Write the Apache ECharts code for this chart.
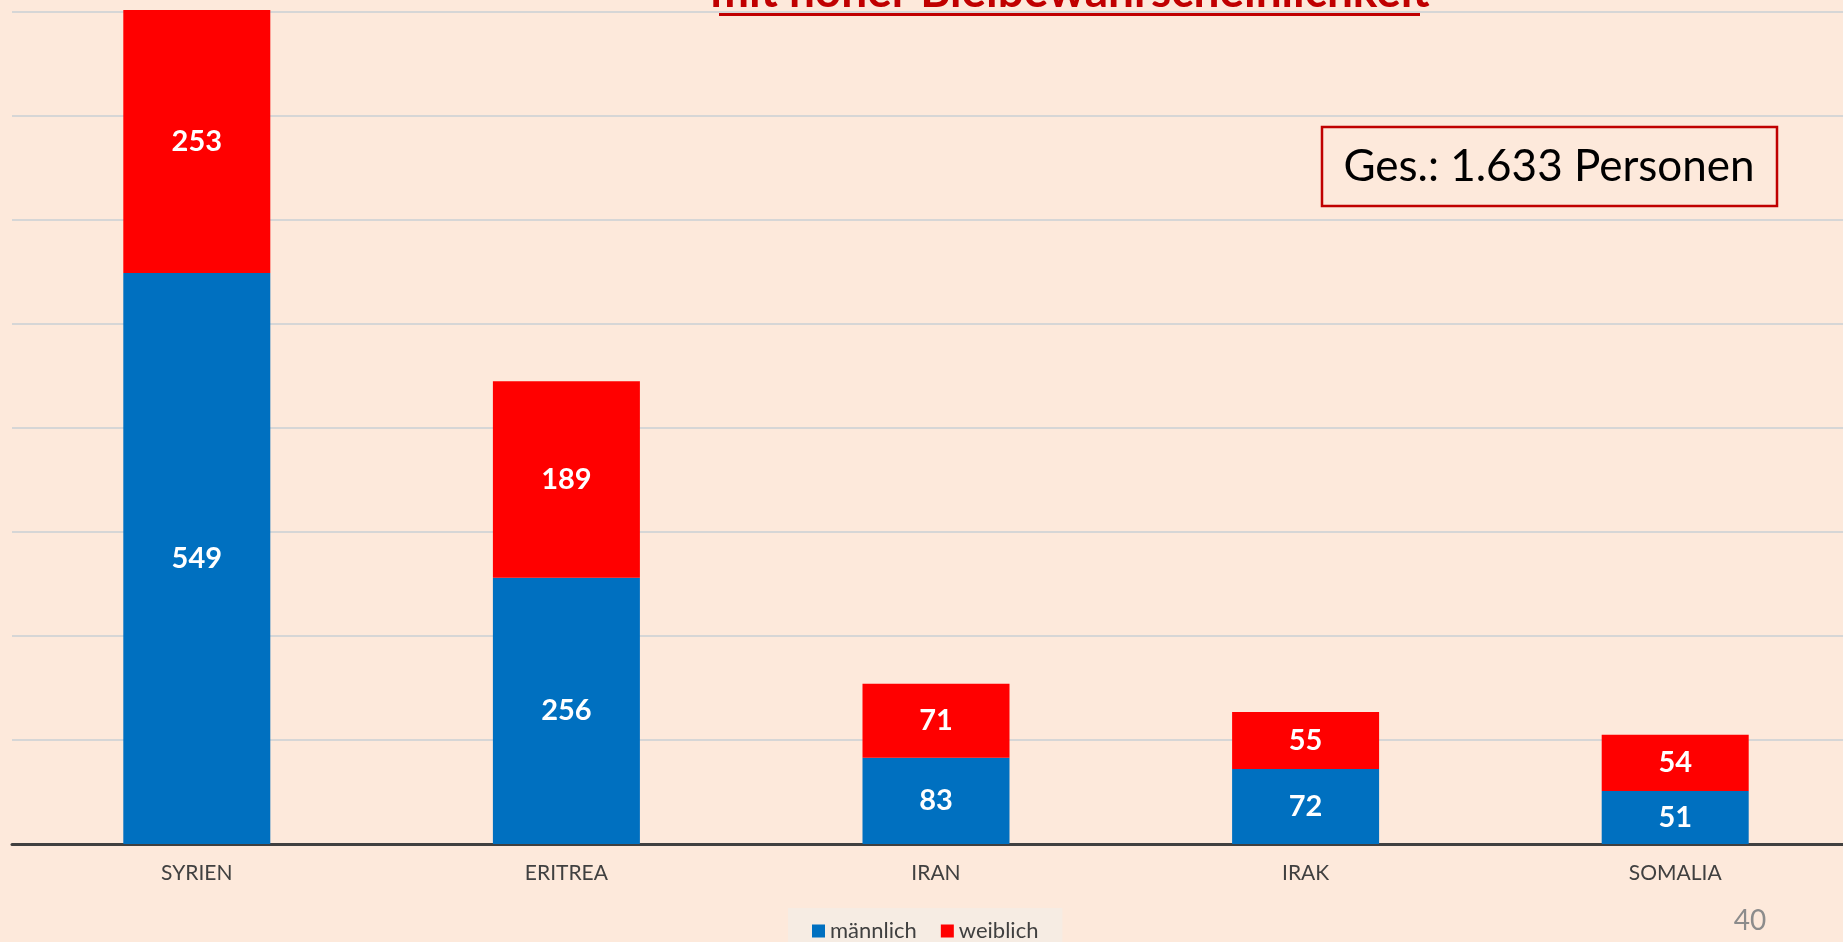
<!DOCTYPE html>
<html>
<head>
<meta charset="utf-8">
<script src="https://cdn.jsdelivr.net/npm/echarts@6/dist/echarts.min.js"></script>
<style>
  html, body { margin: 0; padding: 0; background: #fde9db; overflow: hidden; }
  /* etwas breiter als das Fenster: die Achse läuft rechts aus dem Bild */
  #chart { width: 1860px; height: 942px; }
</style>
</head>
<body>
<div id="chart"></div>
<script>
  // Herkunftsländer mit hoher Bleibewahrscheinlichkeit
  const categories = ['SYRIEN', 'ERITREA', 'IRAN', 'IRAK', 'SOMALIA'];
  const maennlich = [549, 256, 83, 72, 51];
  const weiblich = [253, 189, 71, 55, 54];
  const seriesNames = ['männlich', 'weiblich'];
  const titleText = 'mit hoher Bleibewahrscheinlichkeit';
  const totalText = 'Ges.: 1.633 Personen';
  const pageNo = '40';

  const myChart = echarts.init(document.getElementById('chart'));
  const labelStyle = {
    show: true,
    position: 'inside',
    color: '#ffffff',
    fontFamily: 'Lato',
    fontWeight: 'bold',
    fontSize: 29
  };

  const option = {
    backgroundColor: '#fde9db',
    animation: false,
    color: ['#0070c0', '#ff0000'],
    grid: {
      top: 12,
      left: 12,
      width: 1848,
      height: 832
    },
    legend: {
      data: seriesNames,
      left: 788,
      top: 908,
      icon: 'rect',
      itemWidth: 13,
      itemHeight: 13,
      itemGap: 24,
      padding: [12, 24, 12, 24],
      backgroundColor: '#f6ece3',
      textStyle: {
        color: '#404040',
        fontFamily: 'Lato',
        fontSize: 22
      }
    },
    xAxis: {
      type: 'category',
      data: categories,
      axisLine: {
        lineStyle: { color: '#404040', width: 3 }
      },
      axisTick: { show: false },
      axisLabel: {
        color: '#404040',
        fontFamily: 'Lato',
        fontSize: 21,
        margin: 19
      }
    },
    yAxis: {
      type: 'value',
      min: 0,
      max: 800,
      interval: 100,
      axisLabel: { show: false },
      axisLine: { show: false },
      axisTick: { show: false },
      splitLine: {
        lineStyle: { color: '#d6d6d6', width: 2 }
      }
    },
    series: [
      {
        name: seriesNames[0],
        type: 'bar',
        stack: 'gesamt',
        barWidth: 147,
        clip: false,
        label: labelStyle,
        data: maennlich
      },
      {
        name: seriesNames[1],
        type: 'bar',
        stack: 'gesamt',
        barWidth: 147,
        clip: false,
        label: labelStyle,
        data: weiblich
      }
    ],
    graphic: [
      // abgeschnittene Überschrift oben
      {
        type: 'text',
        x: 1070,
        y: -8,
        style: {
          text: titleText,
          fill: '#c00000',
          font: 'bold 46px Lato',
          textAlign: 'center',
          textVerticalAlign: 'middle'
        }
      },
      {
        type: 'rect',
        shape: { x: 719, y: 12, width: 701, height: 4 },
        style: { fill: '#c00000' }
      },
      // Kasten mit Gesamtzahl
      {
        type: 'rect',
        shape: { x: 1322, y: 127, width: 455, height: 79 },
        style: { fill: 'none', stroke: '#c00000', lineWidth: 2.5 }
      },
      {
        type: 'text',
        x: 1549,
        y: 167,
        style: {
          text: totalText,
          fill: '#000000',
          font: '44px Lato',
          textAlign: 'center',
          textVerticalAlign: 'middle'
        }
      },
      {
        type: 'text',
        x: 1750,
        y: 921,
        style: {
          text: pageNo,
          fill: '#8c8c8c',
          font: '28px Lato',
          textAlign: 'center',
          textVerticalAlign: 'middle'
        }
      }
    ]
  };

  myChart.setOption(option);
</script>
</body>
</html>
